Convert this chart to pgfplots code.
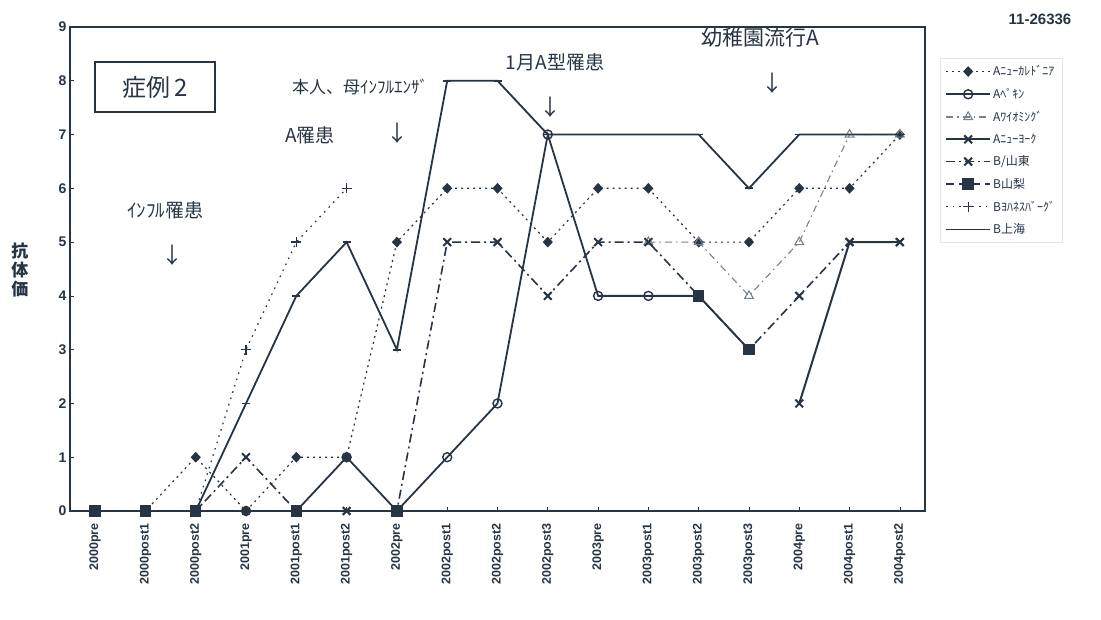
\documentclass[border=0pt]{standalone}
\usepackage{pgfplots}
\usepackage{pgfplotstable}
\pgfplotsset{compat=1.18}
\usepackage{fontspec}
\setmainfont{Liberation Sans}
\newfontfamily\jp{Noto Sans CJK JP}
\definecolor{ink}{RGB}{38,52,68}
\definecolor{inkl}{RGB}{120,130,140}

% antibody titres per sampling point (x = 0 ... 16)
\pgfplotstableread{
x  anc  abj  awy  any  bsd  bym  bjh  bsh
0  0    0    nan  nan  0    0    0    0
1  0    0    nan  nan  0    0    0    0
2  1    0    nan  nan  0    0    0    0
3  0    0    nan  nan  1    nan  3    2
4  1    0    nan  nan  0    0    5    4
5  1    1    nan  nan  0    nan  6    5
6  5    0    nan  nan  0    0    nan  3
7  6    1    nan  nan  5    nan  nan  8
8  6    2    nan  nan  5    nan  nan  8
9  5    7    nan  nan  4    nan  nan  7
10 6    4    nan  nan  5    nan  nan  7
11 6    4    5    nan  5    nan  nan  7
12 5    4    5    nan  4    4    nan  7
13 5    3    4    nan  3    3    nan  6
14 6    nan  5    2    4    nan  nan  7
15 6    nan  7    5    5    nan  nan  7
16 7    nan  7    5    5    nan  nan  7
}\titres

\begin{document}
\begin{tikzpicture}
\useasboundingbox (0pt,0pt) rectangle (1101pt,620pt);
\begin{axis}[
  at={(70pt,109pt)}, anchor=south west, scale only axis,
  width=855pt, height=484pt,
  xmin=-0.5, xmax=16.5, ymin=0, ymax=9,
  xtick={0,...,16},
  xticklabels={2000pre,2000post1,2000post2,2001pre,2001post1,2001post2,2002pre,2002post1,2002post2,2002post3,2003pre,2003post1,2003post2,2003post3,2004pre,2004post1,2004post2},
  x tick label style={rotate=90, anchor=east, xshift=-9pt, font=\bfseries\fontsize{12.5}{12.5}\selectfont, text=ink},
  ytick={0,...,9},
  y tick label style={font=\bfseries\fontsize{14}{14}\selectfont, text=ink},
  /pgf/number format/assume math mode=true,
  axis line style={ink, line width=1.4pt},
  tick style={ink, line width=0.6pt},
  major tick length=4pt,
  xtick pos=bottom, ytick pos=left,
  unbounded coords=jump,
  clip=false,
  legend style={at={(1.0175,0.935)}, anchor=north west, draw=gray!20,
    font=\jp\fontsize{12}{12}\selectfont, text=ink, row sep=7pt,
    inner sep=5pt},
  legend cell align=left,
  legend image code/.code={\draw[mark repeat=2,mark phase=2] plot coordinates {(0pt,0pt)(22pt,0pt)(44pt,0pt)};},
]
\addplot[ink, line width=1.2pt, dash pattern=on 2pt off 4pt,
  mark=diamond*, mark size=4.5pt, mark options={solid, fill=ink, draw=ink, xscale=1.25}]
  table[x=x,y=anc]{\titres};
\addlegendentry{Aﾆｭｰｶﾚﾄﾞﾆｱ}
\addplot[ink, line width=1.8pt,
  mark=o, mark size=4.5pt, mark options={solid, fill=white, line width=1.4pt}]
  table[x=x,y=abj]{\titres};
\addlegendentry{Aﾍﾟｷﾝ}
\addplot[inkl, line width=1.1pt, dash pattern=on 7pt off 4pt on 1.5pt off 4pt,
  mark=triangle, mark size=5pt, mark options={solid, fill=white, line width=1.1pt}]
  table[x=x,y=awy]{\titres};
\addlegendentry{Aﾜｲｵﾐﾝｸﾞ}
\addplot[ink, line width=2pt,
  mark=x, mark size=5.5pt, mark options={solid, line width=2pt}]
  table[x=x,y=any]{\titres};
\addlegendentry{Aﾆｭｰﾖｰｸ}
\addplot[ink, line width=1.6pt, dash pattern=on 9pt off 4pt on 2pt off 4pt,
  mark=x, mark size=5.5pt, mark options={solid, line width=2pt}]
  table[x=x,y=bsd]{\titres};
\addlegendentry{B/山東}
\addplot[ink, line width=1.4pt, dash pattern=on 8pt off 5pt,
  mark=square*, mark size=5pt, mark options={solid, fill=ink}]
  table[x=x,y=bym]{\titres};
\addlegendentry{B山梨}
\addplot[ink, line width=1.2pt, dash pattern=on 1.6pt off 5pt,
  mark=+, mark size=5pt, mark options={solid, line width=1.3pt}]
  table[x=x,y=bjh]{\titres};
\addlegendentry{Bﾖﾊﾈｽﾊﾞｰｸﾞ}
\addplot[ink, line width=1.8pt, mark=-, mark size=4pt, mark options={solid}]
  table[x=x,y=bsh]{\titres};
\addlegendentry{B上海}
\end{axis}

% annotations
\node[draw=ink, line width=1.4pt, minimum width=120pt, minimum height=50pt,
  text=ink, font=\jp\fontsize{24}{24}\selectfont] at (155pt,533pt) {症例\,2};
\node[text=ink, font=\jp\fontsize{19}{19}\selectfont] at (165pt,410pt) {ｲﾝﾌﾙ罹患};
\node[text=ink, font=\jp\fontsize{22}{22}\selectfont] at (172pt,365pt) {↓};
\node[text=ink, font=\jp\fontsize{17}{17}\selectfont] at (360pt,533pt) {本人、母ｲﾝﾌﾙｴﾝｻﾞ};
\node[text=ink, font=\jp\fontsize{19}{19}\selectfont] at (310pt,485pt) {A罹患};
\node[text=ink, font=\jp\fontsize{22}{22}\selectfont] at (397pt,487pt) {↓};
\node[text=ink, font=\jp\fontsize{19}{19}\selectfont] at (555pt,558pt) {1月A型罹患};
\node[text=ink, font=\jp\fontsize{22}{22}\selectfont] at (550pt,513pt) {↓};
\node[text=ink, font=\jp\fontsize{21}{21}\selectfont] at (760pt,582pt) {幼稚園流行A};
\node[text=ink, font=\jp\fontsize{22}{22}\selectfont] at (772pt,537pt) {↓};
\node[text=ink, font=\bfseries\fontsize{15}{15}\selectfont] at (1040pt,601pt) {11-26336};
\node[text=ink, font=\jp\bfseries\fontsize{17}{19}\selectfont, align=center] at (20pt,350pt) {抗\\体\\価};
\end{tikzpicture}
\end{document}
